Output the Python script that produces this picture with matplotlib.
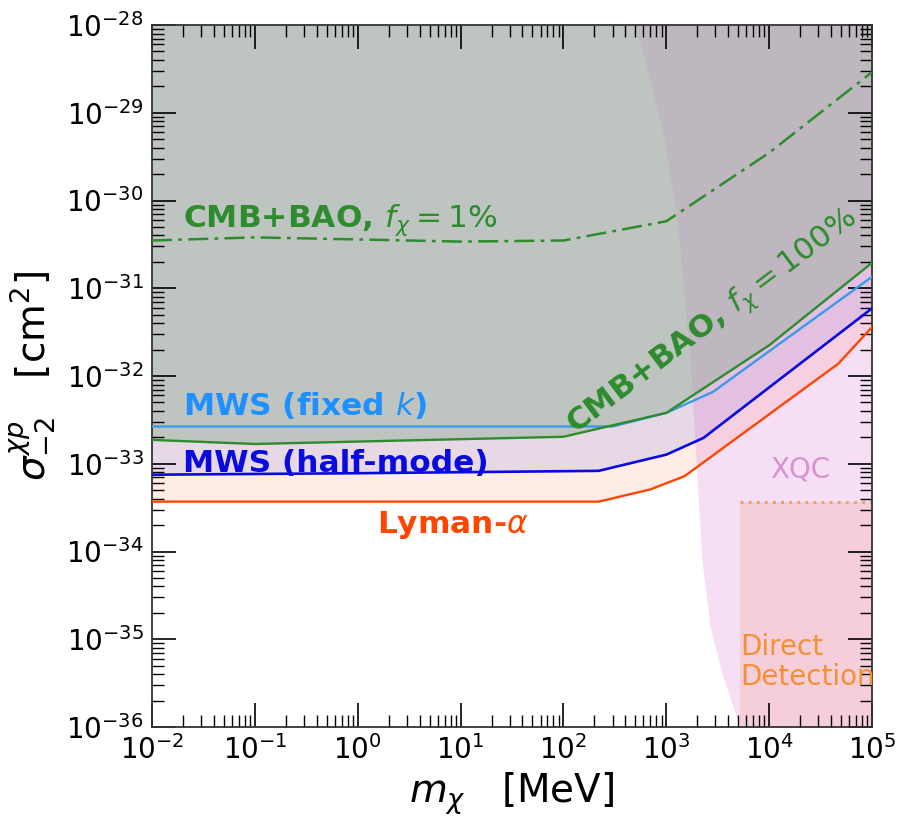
import numpy as np
import matplotlib
matplotlib.use("Agg")
import matplotlib.pyplot as plt
from matplotlib.ticker import LogLocator, NullFormatter, FixedLocator

# ---------------- data ----------------
# Lyman-alpha bound
lya_mass = [1e-2, 220, 700, 1500, 4.7e4, 1e5]
lya_sigma = [3.7e-34, 3.7e-34, 5.1e-34, 7.2e-34, 1.38e-32, 3.6e-32]

# MWS (half-mode)
hm_mass = [1e-2, 1, 220, 1000, 2300, 1e5]
hm_sigma = [7.5e-34, 7.8e-34, 8.3e-34, 1.27e-33, 1.97e-33, 5.9e-32]

# MWS (fixed k)
fk_mass = [1e-2, 300, 1000, 2850, 1e5]
fk_sigma = [2.66e-33, 2.66e-33, 3.8e-33, 6.6e-33, 1.35e-31]

# CMB+BAO, f = 100%
cmb100_mass = [1e-2, 0.1, 100, 1000, 1e4, 1e5]
cmb100_sigma = [1.87e-33, 1.68e-33, 2.03e-33, 3.8e-33, 2.24e-32, 1.95e-31]

# CMB+BAO, f = 1%
cmb1_mass = [1e-2, 0.1, 1, 10, 100, 1000, 1e4, 1e5]
cmb1_sigma = [3.5e-31, 3.8e-31, 3.6e-31, 3.4e-31, 3.5e-31, 5.8e-31, 3.5e-30, 2.9e-29]

# XQC excluded region boundary (mass lower edge vs cross section)
xqc_sigma = [1e-28, 3.3e-29, 5.9e-30, 6.5e-31, 3.1e-32, 9.8e-33, 4.7e-34,
             7.9e-35, 1.4e-35, 3.7e-36, 1.5e-36, 1e-36]
xqc_mass = [500, 650, 930, 1270, 1620, 1750, 2030, 2220, 2660, 3560, 4650, 5200]

# Direct detection region
dd_mass = [5.2e3, 1e5]
dd_sigma = [3.7e-34, 3.7e-34]

x_major = [1e-2, 1e-1, 1e0, 1e1, 1e2, 1e3, 1e4, 1e5]
y_major = [1e-36, 1e-35, 1e-34, 1e-33, 1e-32, 1e-31, 1e-30, 1e-29, 1e-28]

xlim = (1e-2, 1e5)
ylim = (1e-36, 1e-28)

# ---------------- figure ----------------
fig = plt.figure(figsize=(9.02, 8.16), dpi=100)
ax = fig.add_axes([152 / 902, 1 - 727 / 816, 720 / 902, 702 / 816])
ax.set_xscale("log")
ax.set_yscale("log")
ax.set_xlim(*xlim)
ax.set_ylim(*ylim)

top = ylim[1]
ax.fill_between(lya_mass, lya_sigma, top, color="orangered", alpha=0.10, lw=0, zorder=1)
ax.fill_between(hm_mass, hm_sigma, top, color="#5a6ae8", alpha=0.15, lw=0, zorder=1.1)
ax.fill_betweenx(xqc_sigma, xqc_mass, xlim[1], color="orchid", alpha=0.16, lw=0, zorder=1.15)
ax.fill_between(cmb100_mass, cmb100_sigma, top, color="#a6b8a9", alpha=0.62, lw=0, zorder=1.2)
ax.fill_betweenx(xqc_sigma, xqc_mass, xlim[1], color="orchid", alpha=0.07, lw=0, zorder=1.3)
ax.fill_between(dd_mass, ylim[0], dd_sigma, color="#fa8c6e", alpha=0.2, lw=0, zorder=1.4)
ax.plot(dd_mass, dd_sigma, ls=":", color="#f4a070", lw=2.2, zorder=2)

ax.plot(lya_mass, lya_sigma, color="orangered", lw=1.7, zorder=3)
ax.plot(hm_mass, hm_sigma, color="#0a0ae0", lw=1.9, zorder=3)
ax.plot(fk_mass, fk_sigma, color="#3a9ae6", lw=1.7, zorder=3)
ax.plot(cmb100_mass, cmb100_sigma, color="#2e8b2e", lw=1.7, zorder=3.1)
ax.plot(cmb1_mass, cmb1_sigma, color="#2e8b2e", lw=1.8, zorder=3,
        dashes=(8, 2.5, 1.5, 2.5))

# ---------------- labels ----------------
fs = 22.5
ax.text(0.02, 5.0e-31, r"CMB+BAO, $f_\chi = 1\%$", color="#2e8b2e", fontsize=fs,
        fontweight="bold", ha="left", va="baseline", zorder=4)
ax.text(0.02, 3.6e-33, r"MWS (fixed $k$)", color="dodgerblue", fontsize=fs,
        fontweight="bold", ha="left", va="baseline", zorder=4)
ax.text(0.02, 8.0e-34, r"MWS (half-mode)", color="#0a0ae0", fontsize=fs,
        fontweight="bold", ha="left", va="baseline", zorder=4)
ax.text(1.54, 1.62e-34, r"Lyman-$\alpha$", color="orangered", fontsize=fs,
        fontweight="bold", ha="left", va="baseline", zorder=4)
ax.text(130, 2.2e-33, r"CMB+BAO, $f_\chi = 100\%$", color="#2e8b2e", fontsize=fs,
        fontweight="bold", ha="left", va="baseline", rotation=37,
        rotation_mode="anchor", zorder=4)
ax.text(1.02e4, 6.9e-34, "XQC", color="#d892cf", fontsize=20, ha="left",
        va="baseline", zorder=4)
ax.text(5.2e3, 1.17e-35, "Direct\nDetection", color="#f39035", fontsize=20,
        ha="left", va="top", linespacing=1.1, zorder=4)

ax.set_xlabel(r"$m_\chi$   [MeV]", fontsize=28, labelpad=4)
ax.set_ylabel(r"$\sigma^{\chi p}_{-2}$   [cm$^2$]", fontsize=28, labelpad=6)

# ---------------- ticks ----------------
ax.xaxis.set_major_locator(FixedLocator(x_major))
ax.yaxis.set_major_locator(FixedLocator(y_major))
for axis in (ax.xaxis, ax.yaxis):
    axis.set_minor_locator(LogLocator(base=10, subs=np.arange(2, 10), numticks=200))
    axis.set_minor_formatter(NullFormatter())
ax.tick_params(which="both", direction="in", top=True, right=True)
ax.tick_params(which="major", length=17, width=1.2, labelsize=20, pad=6)
ax.tick_params(which="minor", length=8.5, width=1.0)
for s in ax.spines.values():
    s.set_linewidth(1.3)
    s.set_color("#333333")

fig.savefig("out.png", dpi=100)
